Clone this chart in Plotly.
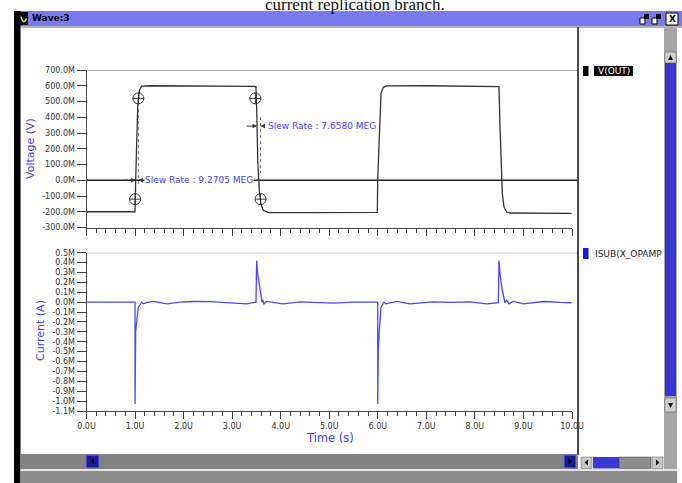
import plotly.graph_objects as go

# ---------------- data ----------------
time_ticks = [0, 1, 2, 3, 4, 5, 6, 7, 8, 9, 10]
time_tick_labels = ["0.0U", "1.0U", "2.0U", "3.0U", "4.0U", "5.0U",
                    "6.0U", "7.0U", "8.0U", "9.0U", "10.0U"]
volt_ticks = [700, 600, 500, 400, 300, 200, 100, 0, -100, -200, -300]
volt_tick_labels = ["700.0M", "600.0M", "500.0M", "400.0M", "300.0M", "200.0M",
                    "100.0M", "0.0M", "-100.0M", "-200.0M", "-300.0M"]
curr_ticks = [0.5, 0.4, 0.3, 0.2, 0.1, 0.0, -0.1, -0.2, -0.3, -0.4, -0.5,
              -0.6, -0.7, -0.8, -0.9, -1.0, -1.1]
curr_tick_labels = ["0.5M", "0.4M", "0.3M", "0.2M", "0.1M", "0.0M", "-0.1M",
                    "-0.2M", "-0.3M", "-0.4M", "-0.5M", "-0.6M", "-0.7M",
                    "-0.8M", "-0.9M", "-1.0M", "-1.1M"]

# V(OUT), time in us, value in mV
vout_t = [0, 1.0, 1.013, 1.034, 1.055, 1.088, 1.137, 1.3, 2.0, 3.0, 3.49,
          3.506, 3.527, 3.56, 3.59, 3.64, 3.745, 4.5, 5.0, 5.99,
          5.998, 6.025, 6.05, 6.066, 6.113, 6.183, 7.0, 8.0, 8.496,
          8.517, 8.544, 8.565, 8.6, 8.655, 8.723, 9.5, 9.994]
vout_v = [-200, -200, 0, 340, 470, 570, 598, 600, 600, 599, 596,
          446, 127, -64, -148, -191, -205, -205, -206, -204,
          0, 236, 446, 552, 590, 599, 600, 599, 594,
          339, 64, -85, -170, -202, -208, -209, -210]

# ISUB(X_OPAMP), time in us, value in mA
isub_t = [0, 1.0, 1.0005, 1.003, 1.013, 1.067, 1.102, 1.137, 1.17, 1.236,
          1.376, 1.652, 1.926, 2.194, 2.544, 2.888, 3.30, 3.491, 3.505,
          3.526, 3.574, 3.615, 3.629, 3.656, 3.712, 3.848, 4.054, 4.398,
          4.81, 5.08, 5.495, 5.977, 5.998, 5.9985, 6.01, 6.031, 6.066,
          6.128, 6.169, 6.389, 6.663, 7.143, 7.487, 7.9, 8.243, 8.482,
          8.496, 8.517, 8.564, 8.62, 8.655, 8.702, 8.791, 8.997, 9.409,
          9.753, 9.994]
isub_v = [0, 0, -1.03, -0.5, -0.29, -0.05, -0.017, 0.0, -0.017, -0.005,
          0.007, -0.017, 0.0, 0.007, 0.005, -0.006, -0.017, 0.0, 0.42,
          0.287, 0.118, 0.0, 0.024, -0.017, 0.007, 0.0, -0.017, 0.003,
          -0.003, -0.01, 0.0, 0.0, 0.0, -1.03, -0.49, -0.286, -0.05,
          0.0, -0.017, 0.007, -0.017, 0.003, -0.003, 0.002, -0.017, -0.006,
          0.42, 0.287, 0.118, -0.006, 0.02, -0.017, 0.007, -0.017, 0.007,
          -0.003, -0.006]

# slew-rate measurement points (10% / 90%)
meas_t = [1.002, 1.068, 3.478, 3.585]
meas_v = [-120, 520, 520, -120]
cursor_t = [1.068, 1.068, None, 3.585, 3.585]
cursor_v = [490, -45, None, 401, 45]
slew_labels = ["Slew Rate : 9.2705 MEG", "Slew Rate : 7.6580 MEG"]
slew_t = [1.184, 3.708]
slew_v = [0, 344]
series_names = ["V(OUT)", "ISUB(X_OPAMP"]

# ---------------- layout helpers ----------------
W, H = 682, 483
def X(p): return p / W
def Y(p): return 1 - p / H

FONT = "DejaVu Sans"
BLUE_TXT = "#4040ff"
shapes = []
annotations = []

def rect(x0, y0, x1, y1, fill, lc=None, lw=0, layer="above"):
    shapes.append(dict(type="rect", xref="paper", yref="paper",
                       x0=X(x0), x1=X(x1), y0=Y(y1), y1=Y(y0),
                       fillcolor=fill, line=dict(color=lc or fill, width=lw),
                       layer=layer))

def pline(x0, y0, x1, y1, color, w=1):
    shapes.append(dict(type="line", xref="paper", yref="paper",
                       x0=X(x0), x1=X(x1), y0=Y(y0), y1=Y(y1),
                       line=dict(color=color, width=w), layer="above"))

def text(t, x, y, size=9, color="#222", xanchor="left", yanchor="middle",
         family=FONT, angle=0):
    annotations.append(dict(text=t, x=X(x), y=Y(y), xref="paper", yref="paper",
                            xanchor=xanchor, yanchor=yanchor, showarrow=False,
                            textangle=angle,
                            font=dict(family=family, size=size, color=color)))

fig = go.Figure()

fig.add_trace(go.Scatter(x=vout_t, y=vout_v, mode="lines",
                         line=dict(color="#333333", width=1.3),
                         xaxis="x", yaxis="y", name=series_names[0]))
fig.add_trace(go.Scatter(x=cursor_t, y=cursor_v, mode="lines",
                         line=dict(color="#666666", width=1, dash="dot"),
                         xaxis="x", yaxis="y", connectgaps=False))
fig.add_trace(go.Scatter(x=meas_t, y=meas_v, mode="markers",
                         marker=dict(symbol="circle-cross-open", size=11,
                                     color="#333333", line=dict(width=1)),
                         xaxis="x", yaxis="y"))
fig.add_trace(go.Scatter(x=isub_t, y=isub_v, mode="lines",
                         line=dict(color="#4848ff", width=1.3),
                         xaxis="x2", yaxis="y2", name=series_names[1]))

# plot-area reference lines
for yref, yv, col in [("y", 700, "#8a8a8a"), ("y", 0, "#222222"), ("y2", 0.5, "#8a8a8a")]:
    shapes.append(dict(type="line", xref="paper", yref=yref,
                       x0=X(86.5), x1=X(578), y0=yv, y1=yv,
                       line=dict(color=col, width=1.3), layer="below"))

# slew rate arrows + labels
arrow_specs = [(1.013, 0, -12), (1.068, 0, 6), (3.513, 344, -12), (3.585, 344, 6)]
for (ax_t, ax_v, off) in arrow_specs:
    annotations.append(dict(x=ax_t, y=ax_v, xref="x", yref="y", text="",
                            showarrow=True, ax=off, ay=0, arrowhead=2,
                            arrowsize=0.9, arrowwidth=1, arrowcolor="#333",
                            standoff=0))
for lab, t, v in zip(slew_labels, slew_t, slew_v):
    annotations.append(dict(x=t, y=v, xref="x", yref="y", text=lab,
                            showarrow=False, xanchor="left", yanchor="middle",
                            bgcolor="#ffffff", borderpad=0,
                            font=dict(family=FONT, size=9, color=BLUE_TXT)))

# ---------------- window chrome ----------------
# caption above window (cut by the image top, as in the original)
text("current replication branch.", 355, 16, size=17, color="#111",
     xanchor="center", yanchor="bottom", family="Liberation Serif")
# title bar
rect(14, 11, 682, 26, "#7a7af0")
rect(15, 12, 28, 25, "#000000")
shapes.append(dict(type="path", xref="paper", yref="paper", layer="above",
                   path="M %f %f Q %f %f %f %f Q %f %f %f %f" % (
                       X(16.5), Y(18.5), X(19), Y(12), X(21.5), Y(18.5),
                       X(24), Y(25), X(26.5), Y(18.5)),
                   line=dict(color="#f0e000", width=1.5)))
text("<b>Wave:3</b>", 30, 18.5, size=9, color="#000")
# title buttons
for bx in (640, 652):
    rect(bx, 14, bx + 9, 24, "#7a7af0")
    rect(bx, 18, bx + 5, 24, "#ffffff", "#000", 1)
    rect(bx + 4, 14, bx + 9, 19, "#000000")
rect(666, 13, 678, 25, "#ffffff", "#000", 1)
text("<b>X</b>", 672, 19, size=9, color="#000", xanchor="center")
pline(14, 27, 682, 27, "#9a9a9a", 1.5)
# left black border
rect(14, 11, 20.5, 483, "#000000")
# pane separator
pline(578, 27, 578, 455, "#4a4a4a", 2)
# right vertical scrollbar
rect(664, 28, 677, 469, "#a6a6a6")
rect(665, 52, 676, 63, "#cfcfcf", "#555", 0.5)
shapes.append(dict(type="path", xref="paper", yref="paper", layer="above",
                   path="M %f %f L %f %f L %f %f Z" % (X(668), Y(60), X(673), Y(60), X(670.5), Y(55)),
                   fillcolor="#000", line=dict(width=0)))
rect(665, 63, 676, 396, "#3636d2")
rect(665, 398, 676, 412, "#cfcfcf", "#555", 0.5)
shapes.append(dict(type="path", xref="paper", yref="paper", layer="above",
                   path="M %f %f L %f %f L %f %f Z" % (X(668), Y(403), X(673), Y(403), X(670.5), Y(408)),
                   fillcolor="#000", line=dict(width=0)))
# bottom scroll bar (plot pane)
rect(20.5, 454, 578, 469, "#828282")
rect(86, 455, 99, 468, "#1c1c96", "#6a6aff", 1)
shapes.append(dict(type="path", xref="paper", yref="paper", layer="above",
                   path="M %f %f L %f %f L %f %f Z" % (X(94), Y(458.5), X(94), Y(464.5), X(90.5), Y(461.5)),
                   fillcolor="#000", line=dict(width=0)))
rect(564, 455, 576, 468, "#1c1c96", "#6a6aff", 1)
shapes.append(dict(type="path", xref="paper", yref="paper", layer="above",
                   path="M %f %f L %f %f L %f %f Z" % (X(568.5), Y(458.5), X(568.5), Y(464.5), X(572), Y(461.5)),
                   fillcolor="#000", line=dict(width=0)))
# bottom scroll bar (legend pane)
rect(581, 457, 592, 468.5, "#c8c8c8", "#555", 0.5)
shapes.append(dict(type="path", xref="paper", yref="paper", layer="above",
                   path="M %f %f L %f %f L %f %f Z" % (X(588), Y(459.5), X(588), Y(465.5), X(584.5), Y(462.5)),
                   fillcolor="#000", line=dict(width=0)))
rect(593, 457, 619, 468.5, "#3a3ad6")
rect(619, 457, 651, 468.5, "#8c8c8c", "#444", 0.5)
rect(652, 457, 663, 468.5, "#c8c8c8", "#555", 0.5)
shapes.append(dict(type="path", xref="paper", yref="paper", layer="above",
                   path="M %f %f L %f %f L %f %f Z" % (X(656), Y(459.5), X(656), Y(465.5), X(659.5), Y(462.5)),
                   fillcolor="#000", line=dict(width=0)))
# bottom status strip
rect(20.5, 469, 677, 471, "#e6e6e6")
rect(20.5, 471, 677, 483, "#8c8c8c")

# legend pane entries
rect(583, 66, 588.5, 76, "#000000")
rect(594, 66, 633, 76, "#000000")
text(series_names[0], 596, 71, size=9, color="#ffffff")
rect(583, 248, 588.5, 259, "#1414ff")
text(series_names[1], 593, 253.5, size=9, color="#222")

# axis titles
text("Voltage (V)", 30, 149, size=11, color=BLUE_TXT, xanchor="center", angle=-90)
text("Current (A)", 40, 331, size=11, color=BLUE_TXT, xanchor="center", angle=-90)
text("Time (s)", 330, 438, size=11.5, color=BLUE_TXT, xanchor="center")

# ---------------- axes ----------------
xdom = [X(86.5), X(572)]
tickfont = dict(family=FONT, size=8, color="#333")
xcommon = dict(domain=xdom, range=[0, 10], showline=True, linecolor="#444",
               linewidth=1, ticks="outside", ticklen=7, tickcolor="#444",
               tickvals=time_ticks, showgrid=False, zeroline=False,
               minor=dict(ticks="outside", ticklen=4, dtick=0.2, tick0=0,
                          tickcolor="#444", showgrid=False),
               automargin=False, fixedrange=True)
ycommon = dict(showline=True, linecolor="#444", linewidth=1, ticks="outside",
               ticklen=9, tickcolor="#444", showgrid=False, zeroline=False,
               tickfont=tickfont, automargin=False, fixedrange=True)

fig.update_layout(
    width=W, height=H, margin=dict(l=0, r=0, t=0, b=0),
    paper_bgcolor="#ffffff", plot_bgcolor="#ffffff", showlegend=False,
    xaxis=dict(**xcommon, anchor="y", showticklabels=False),
    yaxis=dict(**ycommon, anchor="x", domain=[Y(227.5), Y(70)], range=[-300, 700],
               tickvals=volt_ticks, ticktext=volt_tick_labels),
    xaxis2=dict(**xcommon, anchor="y2", ticktext=time_tick_labels, tickfont=tickfont),
    yaxis2=dict(**ycommon, anchor="x2", domain=[Y(411), Y(252.7)], range=[-1.1, 0.5],
                tickvals=curr_ticks, ticktext=curr_tick_labels),
    shapes=shapes, annotations=annotations,
)

fig.write_html("out.html")
